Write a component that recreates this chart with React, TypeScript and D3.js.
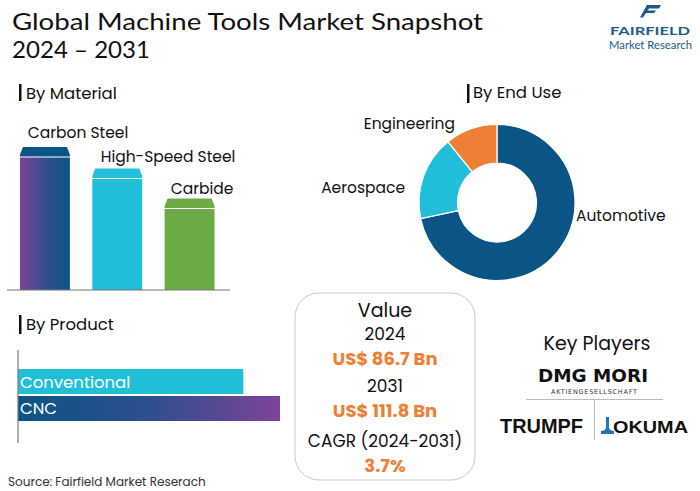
import React from "react";
import * as d3 from "d3";

const materialCategories = ["Carbon Steel", "High-Speed Steel", "Carbide"];
const materialValues = [100, 85, 64];
const endUseCategories = ["Automotive", "Aerospace", "Engineering"];
const endUseValues = [71.7, 17.5, 10.8];
const productCategories = ["Conventional", "CNC"];
const productValues = [86, 100];
const valueLines = ["Value", "2024", "US$ 86.7 Bn", "2031", "US$ 111.8 Bn", "CAGR (2024-2031)", "3.7%"];

const FONT = 'Poppins, "Open Sans", sans-serif';
const ORANGE = "#EF7F35";
const DARKBLUE = "#0B5486";
const CYAN = "#20BED9";
const GREEN = "#6AAB45";
const PURPLE = "#7E4399";

export default function App() {
  // Material bars
  const xMat = d3.scaleBand<string>().domain(materialCategories).range([5.5, 229]).paddingInner(0.31).paddingOuter(0.2);
  const yMat = d3.scaleLinear().domain([0, 100]).range([290, 147]);
  const matColors = ["url(#gradMat)", CYAN, GREEN];
  const capColors = [DARKBLUE, "#22BEDB", GREEN];
  const matLabelX = [78, 168, 202];
  const matLabelY = [138, 162, 194];

  // Donut
  const pie = d3.pie<number>().sort(null).value((d) => d);
  const arcs = pie(endUseValues);
  const arcGen = d3.arc<d3.PieArcDatum<number>>().innerRadius(39.5).outerRadius(78);
  const endColors = [DARKBLUE, CYAN, ORANGE];
  const cx = 497, cy = 202.5;
  const endLabels = [
    { x: 576, y: 221, anchor: "start" },
    { x: 405, y: 193, anchor: "end" },
    { x: 455, y: 129, anchor: "end" },
  ];

  // Product bars
  const yProd = d3.scaleBand<string>().domain(productCategories).range([369, 421]).paddingInner(0.074);
  const xProd = d3.scaleLinear().domain([0, 100]).range([18, 280]);
  const prodFills = [CYAN, "url(#gradProd)"];

  const valueStyles = [
    { y: 317, size: 19, color: "#111", weight: 400 },
    { y: 340, size: 17, color: "#111", weight: 400 },
    { y: 365, size: 18, color: ORANGE, weight: 700 },
    { y: 392, size: 17, color: "#111", weight: 400 },
    { y: 417, size: 18, color: ORANGE, weight: 700 },
    { y: 447, size: 17, color: "#111", weight: 400 },
    { y: 472, size: 18, color: ORANGE, weight: 700 },
  ];

  return (
    <svg width={700} height={491} style={{ position: "absolute", left: 0, top: 0, background: "#fff" }} fontFamily={FONT}>
      <defs>
        <linearGradient id="gradMat" x1="0" x2="1" y1="0" y2="0">
          <stop offset="0" stopColor={PURPLE} />
          <stop offset="0.55" stopColor="#2E4E8E" />
          <stop offset="1" stopColor={DARKBLUE} />
        </linearGradient>
        <linearGradient id="gradProd" x1="0" x2="1" y1="0" y2="0">
          <stop offset="0" stopColor={DARKBLUE} />
          <stop offset="0.5" stopColor="#2E4E8E" />
          <stop offset="1" stopColor={PURPLE} />
        </linearGradient>
      </defs>
      <rect x={0} y={0} width={700} height={491} fill="#fff" />

      {/* Title */}
      <text x={12} y={30} fontSize={23} fill="#111" textLength={471} lengthAdjust="spacingAndGlyphs" fontFamily="Lato, sans-serif">Global Machine Tools Market Snapshot</text>
      <text x={12} y={58} fontSize={23} fill="#111" textLength={138} lengthAdjust="spacingAndGlyphs" fontFamily="Lato, sans-serif">2024 – 2031</text>

      {/* Fairfield logo */}
      <g fill="#1B5A8A">
        <path d="M647,5 L661,5 L659,8.5 L646,8.5 Z" />
        <path d="M645,10.5 L656,10.5 L654,13 L644,13 Z" />
        <path d="M647,5 L649,8.5 L643,17.5 L640,17.5 Z" />
        <text x={610} y={35} fontSize={12} fontWeight={700} textLength={80} lengthAdjust="spacingAndGlyphs" fontFamily="Lato, sans-serif">FAIRFIELD</text>
        <text x={609} y={48.5} fontSize={11} textLength={83} lengthAdjust="spacingAndGlyphs" fontFamily="Lato, sans-serif">Market Research</text>
      </g>

      {/* By Material */}
      <rect x={19} y={84} width={2.5} height={17} fill="#111" />
      <text x={26} y={99} fontSize={16.5} fill="#111">By Material</text>
      {materialCategories.map((c, i) => {
        const x0 = xMat(c)!;
        const w = xMat.bandwidth();
        const top = yMat(materialValues[i]);
        const capH = 9.5;
        return (
          <g key={c}>
            <path d={`M${x0 + 3},${top} L${x0 + w - 3},${top} L${x0 + w},${top + capH - 2} L${x0 + w},${top + capH} L${x0},${top + capH} L${x0},${top + capH - 2} Z`} fill={capColors[i]} />
            <rect x={x0} y={top + capH + 1} width={w} height={yMat(0) - top - capH - 1} fill={matColors[i]} />
            <text x={matLabelX[i]} y={matLabelY[i]} fontSize={15.5} fill="#111" textAnchor="middle">{c}</text>
          </g>
        );
      })}
      <line x1={7} x2={230} y1={290} y2={290} stroke="#777" strokeWidth={1.2} />

      {/* By End Use */}
      <rect x={467} y={84} width={2.5} height={19} fill="#111" />
      <text x={473} y={98} fontSize={16.5} fill="#111">By End Use</text>
      <g transform={`translate(${cx},${cy})`}>
        {arcs.map((a, i) => (
          <path key={i} d={arcGen(a)!} fill={endColors[i]} stroke="#fff" strokeWidth={1.2} />
        ))}
      </g>
      {endUseCategories.map((c, i) => (
        <text key={c} x={endLabels[i].x} y={endLabels[i].y} fontSize={15.5} fill="#111" textAnchor={endLabels[i].anchor as any}>{c}</text>
      ))}

      {/* By Product */}
      <rect x={19} y={315} width={2.5} height={19} fill="#111" />
      <text x={26} y={330} fontSize={16.5} fill="#111">By Product</text>
      {productCategories.map((c, i) => (
        <g key={c}>
          <rect x={xProd(0)} y={yProd(c)!} width={xProd(productValues[i]) - xProd(0)} height={yProd.bandwidth()} fill={prodFills[i]} />
          <text x={xProd(0) + 2} y={yProd(c)! + yProd.bandwidth() / 2 + 6} fontSize={16.5} fill="#fff">{c}</text>
        </g>
      ))}
      <line x1={18} x2={18} y1={350} y2={443} stroke="#777" strokeWidth={1.2} />

      {/* Value box */}
      <rect x={295} y={293} width={180} height={187} rx={24} ry={24} fill="#fff" stroke="#c8c8c8" strokeWidth={1} />
      {valueLines.map((t, i) => (
        <text key={i} x={385} y={valueStyles[i].y} fontSize={valueStyles[i].size} fill={valueStyles[i].color} fontWeight={valueStyles[i].weight} textAnchor="middle">{t}</text>
      ))}

      {/* Key players */}
      <text x={597} y={350} fontSize={19} fill="#111" textAnchor="middle">Key Players</text>
      <text x={538} y={382} fontSize={17} fontWeight={900} fill="#111" textLength={110} lengthAdjust="spacingAndGlyphs" fontFamily="'DejaVu Sans', sans-serif">DMG MORI</text>
      <text x={551} y={394} fontSize={6.5} fill="#333" textLength={86} lengthAdjust="spacing" fontFamily="'DejaVu Sans', sans-serif">AKTIENGESELLSCHAFT</text>
      <line x1={526} x2={663} y1={399.5} y2={399.5} stroke="#bbb" strokeWidth={1} />
      <line x1={594.5} x2={594.5} y1={399.5} y2={440} stroke="#bbb" strokeWidth={1} />
      <text x={500} y={433} fontSize={20} fontWeight={700} fill="#111" textLength={83} lengthAdjust="spacingAndGlyphs" fontFamily="'Liberation Sans', sans-serif">TRUMPF</text>
      <path d="M606,417 L609,417 L609,428 Q610,431 614,431 L614,434 L601,434 L601,431 Q605,431 606,428 Z" fill="#1E73BE" />
      <text x={613} y={433} fontSize={17} fontWeight={700} fill="#111" textLength={75} lengthAdjust="spacingAndGlyphs" fontFamily="'Liberation Sans', sans-serif">OKUMA</text>

      {/* Source */}
      <text x={8} y={486} fontSize={12} fill="#333">Source: Fairfield Market Reserach</text>
    </svg>
  );
}
